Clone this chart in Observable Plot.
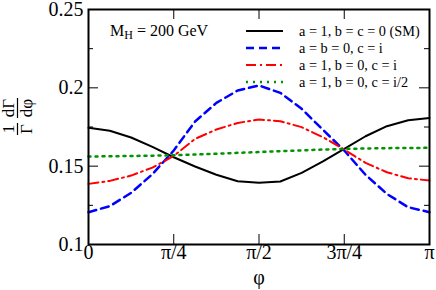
<!DOCTYPE html>
<html><head><meta charset="utf-8">
<script src="https://cdn.jsdelivr.net/npm/d3@7"></script>
<script src="https://cdn.jsdelivr.net/npm/@observablehq/plot@0.6"></script>
<style>body{margin:0;background:#fff}
#chart svg, #chart svg text, #chart svg tspan { font-family: 'Liberation Serif', serif !important; font-variant: normal !important; }
</style>
</head><body><div id="chart"></div>
<script>
const phiIndex = [0,1,2,3,4,5,6,7,8,9,10,11,12,13,14,15,16]; // phi = k*pi/16
const sm   = [0.1745,0.1726,0.1683,0.1623,0.1557,0.1498,0.1445,0.1404,0.1394,0.1402,0.1457,0.1530,0.1610,0.1691,0.1755,0.1793,0.1808];
const cI   = [0.1206,0.1245,0.1330,0.1449,0.1600,0.1785,0.1904,0.1983,0.2015,0.1968,0.1866,0.1732,0.1600,0.1445,0.1323,0.1238,0.1206];
const a1cI = [0.1387,0.1406,0.1440,0.1491,0.1565,0.1674,0.1734,0.1776,0.1798,0.1787,0.1749,0.1685,0.1606,0.1521,0.1461,0.1423,0.1408];
const a1cHalf = [0.1562,0.1563,0.1565,0.1567,0.1570,0.1574,0.1579,0.1585,0.1590,0.1596,0.1601,0.1606,0.1610,0.1613,0.1615,0.1616,0.1617];
const seriesNames = ["a = 1, b = c = 0 (SM)","a = b = 0, c = i","a = 1, b = 0, c = i","a = 1, b = 0, c = i/2"];
const xTicks = [0, Math.PI/4, Math.PI/2, 3*Math.PI/4, Math.PI];
const xTickLabels = ["0","π/4","π/2","3π/4","π"];
const yTicks = [0.1,0.15,0.2,0.25];
const yTickLabels = ["0.1","0.15","0.2","0.25"];
const yMinor = [0.125,0.175,0.225];

const W = 436, H = 290, ML = 88, MR = 7, MT = 9, MB = 46;
const IW = W-ML-MR, IH = H-MT-MB;
const font = "Liberation Serif";
const styles = [
  {stroke:"#000000", strokeWidth:2, strokeDasharray:null},
  {stroke:"#0000ff", strokeWidth:2.5, strokeDasharray:"8,5"},
  {stroke:"#ff0000", strokeWidth:2, strokeDasharray:"10,4,2,4"},
  {stroke:"#009400", strokeWidth:2.5, strokeDasharray:"2,5"}
];
const allSeries = [sm, cI, a1cI, a1cHalf];
const toData = arr => arr.map((v,i)=>({phi: phiIndex[i]*Math.PI/16, v}));

const marks = [];
allSeries.forEach((s,i)=>{
  const o = {x:"phi", y:"v", stroke: styles[i].stroke, strokeWidth: styles[i].strokeWidth};
  if (styles[i].strokeDasharray) o.strokeDasharray = styles[i].strokeDasharray;
  marks.push(Plot.line(toData(s), o));
});
marks.push(Plot.tickY(yTicks, {y: d=>d, insetRight: IW-10, stroke:"#000", strokeWidth:1}));
marks.push(Plot.tickY(yMinor, {y: d=>d, insetRight: IW-5, stroke:"#000", strokeWidth:1}));
marks.push(Plot.tickY(yTicks, {y: d=>d, insetLeft: IW-10, stroke:"#000", strokeWidth:1}));
marks.push(Plot.tickY(yMinor, {y: d=>d, insetLeft: IW-5, stroke:"#000", strokeWidth:1}));
marks.push(Plot.tickX(xTicks, {x: d=>d, insetTop: IH-10, stroke:"#000", strokeWidth:1}));
marks.push(Plot.tickX(xTicks, {x: d=>d, insetBottom: IH-10, stroke:"#000", strokeWidth:1}));
marks.push(Plot.frame({stroke:"#000", strokeWidth:2}));
marks.push(Plot.text(yTicks, {y: d=>d, frameAnchor:"left", dx:-5, textAnchor:"end", text: d=>yTickLabels[yTicks.indexOf(d)], fontSize:20, fontFamily:font, fill:"#000"}));
marks.push(Plot.text(xTicks, {x: d=>d, frameAnchor:"bottom", dy:14, text: d=>xTickLabels[xTicks.indexOf(d)], fontSize:20, fontFamily:font, fill:"#000"}));

const chart = Plot.plot({
  width: W, height: H,
  marginLeft: ML, marginRight: MR, marginTop: MT, marginBottom: MB,
  x: {domain:[0, Math.PI], axis: null},
  y: {domain:[0.1, 0.25], axis: null},
  style: {fontFamily:"Liberation Serif", fontSize:"20px", color:"#000", background:"#fff"},
  marks
});
document.getElementById("chart").appendChild(chart);

const svg = d3.select(chart);
svg.append("text").attr("x", 259).attr("y", 284).attr("text-anchor","middle")
  .attr("font-family", font).attr("font-size", 20).attr("fill","#000").text("φ");
const yl = svg.append("g").attr("font-family", font).attr("font-size", 17).attr("fill","#000");
function frac(cy, num, den, w){
  const g = yl.append("g").attr("transform", `translate(0,${cy}) rotate(-90)`);
  g.append("text").attr("x",0).attr("y",14).attr("text-anchor","middle").text(num);
  g.append("text").attr("x",0).attr("y",32).attr("text-anchor","middle").text(den);
  g.append("line").attr("x1",-w/2).attr("x2",w/2).attr("y1",17.5).attr("y2",17.5).attr("stroke","#000").attr("stroke-width",1.2);
}
frac(129, "1", "Γ", 12);
frac(108, "dΓ", "dφ", 20);
const ann = svg.append("text").attr("x",110).attr("y",36).attr("text-anchor","start")
  .attr("font-family",font).attr("font-size",16).attr("fill","#000");
ann.append("tspan").text("M");
ann.append("tspan").attr("font-size",12).attr("dy",3).text("H");
ann.append("tspan").attr("dy",-3).text(" = 200 GeV");
const ly = [31,48,65,82];
seriesNames.forEach((name,i)=>{
  const l = svg.append("line").attr("x1",246).attr("x2",283).attr("y1",ly[i]).attr("y2",ly[i])
    .attr("stroke",styles[i].stroke).attr("stroke-width",styles[i].strokeWidth);
  if (styles[i].strokeDasharray) l.attr("stroke-dasharray", styles[i].strokeDasharray);
  svg.append("text").attr("x",299).attr("y",ly[i]+5).attr("text-anchor","start")
    .attr("font-family",font).attr("font-size",14.3).attr("fill","#000").text(name);
});
</script></body></html>
